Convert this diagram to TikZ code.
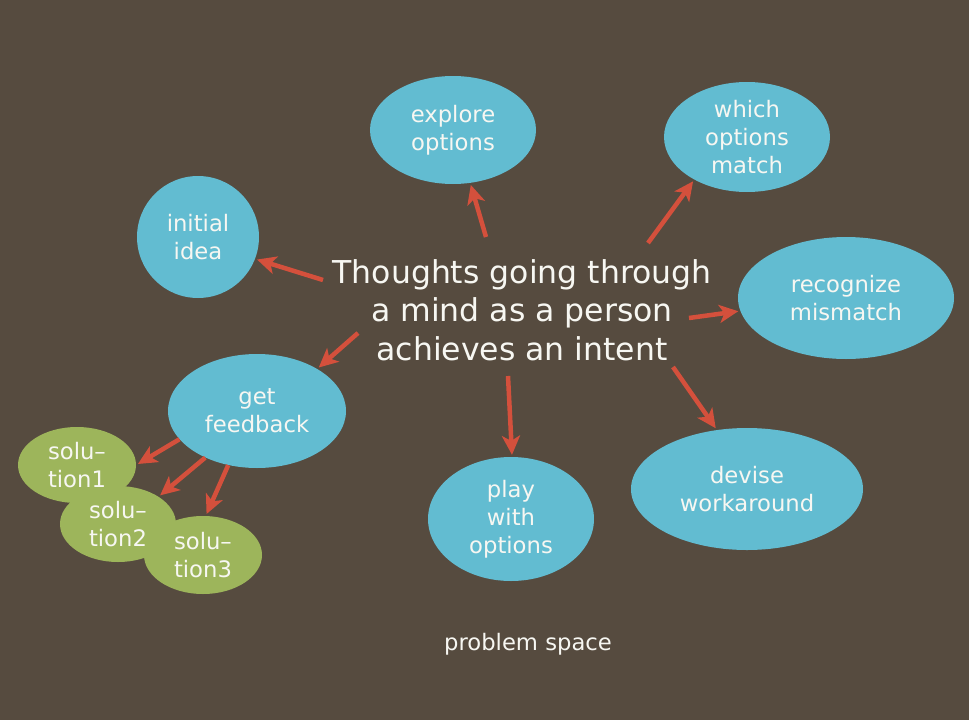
\documentclass[tikz,border=0pt]{standalone}
\usepackage{fontspec}
\setmainfont{DejaVu Sans}
\usetikzlibrary{shapes.geometric,arrows.meta}
\definecolor{bg}{HTML}{564B3F}
\definecolor{bubble}{HTML}{62BCD1}
\definecolor{leaf}{HTML}{9DB55B}
\definecolor{arrowred}{HTML}{D4503C}
\definecolor{txt}{HTML}{F7F7F2}
\tikzset{
  bub/.style={ellipse, fill=bubble, inner sep=0pt, text=txt, align=center,
    font=\fontsize{22.7}{28}\selectfont},
  sol/.style={ellipse, fill=leaf, inner sep=0pt, text=txt, align=left,
    font=\fontsize{22.7}{28}\selectfont},
  arr/.style={draw=arrowred, line width=4.5pt,
    -{Stealth[length=19pt, width=18pt, inset=5pt]}, shorten >=2pt},
}
\begin{document}
\begin{tikzpicture}[x=1pt, y=-1pt]
\fill[bg] (0,0) rectangle (969,720);
\useasboundingbox (0,0) rectangle (969,720);

\node[bub, minimum width=166pt, minimum height=108pt] (explore) at (453,130) {explore\\options};
\node[bub, minimum width=166pt, minimum height=110pt] (which) at (747,137) {which\\options\\match};
\node[bub, minimum width=122pt, minimum height=122pt] (initial) at (198,237) {initial\\idea};
\node[bub, minimum width=216pt, minimum height=122pt] (recog) at (846,298) {recognize\\mismatch};
\node[bub, minimum width=178pt, minimum height=114pt] (feedback) at (257,411) {get\\feedback};
\node[bub, minimum width=166pt, minimum height=124pt] (play) at (511,519) {play\\with\\options};
\node[bub, minimum width=232pt, minimum height=122pt] (devise) at (747,489) {devise\\workaround};

\node[sol, minimum width=118pt, minimum height=76pt] (sol1) at (77,465) {solu–\\tion1};
\node[sol, minimum width=116pt, minimum height=76pt] (sol2) at (118,524) {solu–\\tion2};
\node[sol, minimum width=118pt, minimum height=78pt] (sol3) at (203,555) {solu–\\tion3};

\node[text=txt, align=center, font=\fontsize{31.5}{38.5}\selectfont] (center) at (522,310)
  {Thoughts going through\\a mind as a person\\achieves an intent};

\coordinate (s1) at (323,280);
\coordinate (s2) at (486,237);
\coordinate (s3) at (648,243);
\coordinate (s4) at (689,318);
\coordinate (s5) at (673,367);
\coordinate (s6) at (508,376);
\coordinate (s7) at (358,333);

\draw[arr] (s1) -- (initial.-21);
\draw[arr] (s2) -- (explore.-72);
\draw[arr] (s3) -- (which.-141);
\draw[arr] (s4) -- (recog.187);
\draw[arr] (s5) -- (devise.117);
\draw[arr] (s6) -- (play.89);
\draw[arr] (s7) -- (feedback.35);

\draw[arr] (feedback.200) -- (sol1.0);
\draw[arr] (feedback.222) -- (sol2.34);
\draw[arr] (feedback.242) -- (sol3.86);

\node[text=txt, font=\fontsize{22.7}{28}\selectfont] (space) at (528,644) {problem space};
\end{tikzpicture}
\end{document}
